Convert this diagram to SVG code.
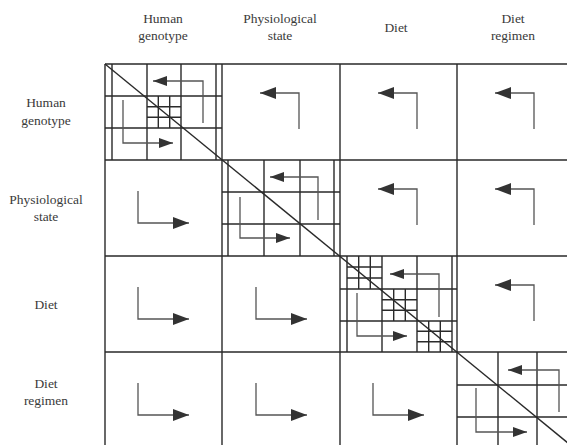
<svg xmlns="http://www.w3.org/2000/svg" width="567" height="445" viewBox="0 0 567 445">
<style>
.lbl{font-family:"Liberation Serif","Times New Roman",serif;font-size:13.5px;fill:#3a3a3a;text-anchor:middle}
.g{stroke:#2a2a2a;stroke-width:1.4;fill:none}
.a{stroke:#555;stroke-width:1.3;fill:none}
</style>
<defs>
<marker id="ah" markerUnits="userSpaceOnUse" markerWidth="18" markerHeight="12" refX="16" refY="6" orient="auto"><path d="M0,0 L16,6 L0,12 Z" fill="#333"/></marker>
<marker id="ahs" markerUnits="userSpaceOnUse" markerWidth="16" markerHeight="10" refX="14" refY="5" orient="auto"><path d="M0,0 L14,5 L0,10 Z" fill="#333"/></marker>
</defs>
<rect width="567" height="445" fill="#fff"/>
<g id="headers">
<text class="lbl" x="163" y="23">Human</text><text class="lbl" x="163" y="40">genotype</text>
<text class="lbl" x="280" y="23">Physiological</text><text class="lbl" x="280" y="40">state</text>
<text class="lbl" x="396" y="32">Diet</text>
<text class="lbl" x="513" y="23">Diet</text><text class="lbl" x="513" y="40">regimen</text>
</g>
<g id="rowlabels">
<text class="lbl" x="46" y="107">Human</text><text class="lbl" x="46" y="125">genotype</text>
<text class="lbl" x="46" y="204">Physiological</text><text class="lbl" x="46" y="221">state</text>
<text class="lbl" x="46" y="309">Diet</text>
<text class="lbl" x="46" y="388">Diet</text><text class="lbl" x="46" y="405">regimen</text>
</g>
<g id="grid" class="g">
<path d="M105,64 H574 M105,160 H574 M105,256 H574 M105,352 H574 M105,64 V448 M222,64 V448 M340,64 V448 M457,64 V448"/>
</g>
<g id="cell11" class="g">
<path d="M112,64 V160 M147,64 V160 M181,64 V160 M216,64 V160 M105,96 H222 M105,128 H222"/>
<path d="M158.3,96 V128 M169.7,96 V128 M147,106.7 H181 M147,117.3 H181"/>
</g>
<g id="cell22" class="g">
<path d="M228,160 V256 M264,160 V256 M300,160 V256 M334,160 V256 M222,192 H340 M222,224 H340"/>
</g>
<g id="cell33" class="g">
<path d="M347,256 V352 M382,256 V352 M417,256 V352 M452,256 V352 M340,289 H457 M340,321 H457"/>
<path d="M358.7,256 V289 M370.3,256 V289 M347,267 H382 M347,278 H382"/>
<path d="M393.7,289 V321 M405.3,289 V321 M382,299.7 H417 M382,310.3 H417"/>
<path d="M428.7,321 V352 M440.3,321 V352 M417,331.3 H452 M417,341.7 H452"/>
</g>
<g id="cell44" class="g">
<path d="M498,352 V448 M537,352 V448 M457,385 H574 M457,417 H574"/>
</g>
<g id="diagonal" class="g">
<path d="M105,64 L574,448"/>
</g>
<g id="connectors" class="a">
<path d="M203,123 V81 H153" marker-end="url(#ahs)"/>
<path d="M123,100 V143 H173" marker-end="url(#ahs)"/>
<path d="M318,220 V177 H270" marker-end="url(#ahs)"/>
<path d="M240,197 V238 H290" marker-end="url(#ahs)"/>
<path d="M439,317 V274 H390" marker-end="url(#ahs)"/>
<path d="M357,293 V336 H407" marker-end="url(#ahs)"/>
<path d="M559,412 V370 H508" marker-end="url(#ahs)"/>
<path d="M476,388 V432 H527" marker-end="url(#ahs)"/>
<path d="M299,129 V93 H260" marker-end="url(#ah)"/>
<path d="M417,129 V93 H378" marker-end="url(#ah)"/>
<path d="M534,129 V93 H495" marker-end="url(#ah)"/>
<path d="M417,225 V189 H378" marker-end="url(#ah)"/>
<path d="M534,225 V189 H495" marker-end="url(#ah)"/>
<path d="M534,321 V285 H495" marker-end="url(#ah)"/>
<path d="M138,191 V223 H189" marker-end="url(#ah)"/>
<path d="M138,287 V319 H189" marker-end="url(#ah)"/>
<path d="M256,287 V319 H307" marker-end="url(#ah)"/>
<path d="M138,383 V415 H189" marker-end="url(#ah)"/>
<path d="M256,383 V415 H307" marker-end="url(#ah)"/>
<path d="M373,383 V415 H424" marker-end="url(#ah)"/>
</g>
</svg>
